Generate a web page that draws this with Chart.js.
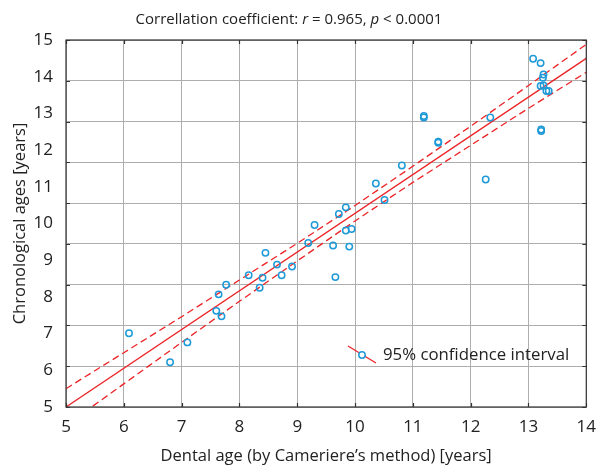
<!DOCTYPE html>
<html>
<head>
<meta charset="utf-8">
<script src="https://cdn.jsdelivr.net/npm/chart.js@4/dist/chart.umd.min.js"></script>
<style>
  html, body { margin: 0; padding: 0; background: #fff; }
  #wrap { width: 606px; height: 465px; }
</style>
</head>
<body>
<div id="wrap"><canvas id="myChart" width="606" height="465"></canvas></div>
<script>
// values (years)
const dentalAge = [6.09, 6.80, 7.10, 7.60, 7.64, 7.69, 7.77, 8.16, 8.35, 8.40, 8.45, 8.65, 8.73, 8.91,
    9.19, 9.30, 9.62, 9.66, 9.72, 9.84, 9.84, 9.90, 9.94, 10.36, 10.51, 10.81, 11.19, 11.19, 11.44, 11.44,
    12.26, 12.34, 13.08, 13.21, 13.26, 13.25, 13.21, 13.26, 13.31, 13.35, 13.22, 13.22];
const chronologicalAge = [7.01, 6.22, 6.76, 7.62, 8.07, 7.47, 8.33, 8.59, 8.25, 8.52, 9.20, 8.88, 8.59, 8.83,
    9.47, 9.96, 9.40, 8.54, 10.26, 10.44, 9.81, 9.37, 9.85, 11.09, 10.64, 11.58, 12.93, 12.89, 12.23, 12.20,
    11.20, 12.89, 14.49, 14.37, 14.06, 13.97, 13.75, 13.76, 13.61, 13.61, 12.56, 12.52];

const fitX = [5, 14];
const fitY = [5.0, 14.5];

const bandX = [5, 6, 7, 8, 9, 10, 11, 12, 13, 14];
const bandUpper = [5.50, 6.48, 7.46, 8.46, 9.46, 10.49, 11.56, 12.65, 13.76, 14.88];
const bandLower = [4.50, 5.63, 6.76, 7.88, 8.98, 10.07, 11.12, 12.13, 13.14, 14.12];

const xTicks = [5, 6, 7, 8, 9, 10, 11, 12, 13, 14];
const yTicks = [5, 6, 7, 8, 9, 10, 11, 12, 13, 14, 15];

const titleParts = [['Correllation coefficient: ', false], ['r', true], [' = 0.965, ', false], ['p', true], [' < 0.0001', false]];
const xTitle = 'Dental age (by Cameriere\u2019s method) [years]';
const yTitle = 'Chronological ages [years]';
const legendText = '95% confidence interval';

const FONT = '"Open Sans", "Noto Sans", sans-serif';
const RED = '#ec2327';
const BLUE = '#1f9ad8';
const GRID = '#adadad';
const FRAME = '#333333';

function toPoints(xs, ys) {
    return xs.map((x, i) => ({x: x, y: ys[i]}));
}

// title with italic r and p, frame, inward tick marks, legend
const decorations = {
    id: 'decorations',
    afterDraw(chart) {
        const ctx = chart.ctx;
        const area = chart.chartArea;
        const sx = chart.scales.x;
        const sg = chart.scales.yGrid;
        ctx.save();

        // title
        const up = '15px ' + FONT;
        const it = 'italic 15px ' + FONT;
        let total = 0;
        for (const [t, i] of titleParts) { ctx.font = i ? it : up; total += ctx.measureText(t).width; }
        let tx = 289 - total / 2;
        ctx.fillStyle = '#222';
        ctx.textBaseline = 'middle';
        ctx.textAlign = 'left';
        for (const [t, i] of titleParts) {
            ctx.font = i ? it : up;
            ctx.fillText(t, tx, 20);
            tx += ctx.measureText(t).width;
        }

        // frame
        ctx.strokeStyle = FRAME;
        ctx.lineWidth = 1.2;
        ctx.strokeRect(area.left, area.top, area.right - area.left, area.bottom - area.top);

        // inward ticks
        ctx.beginPath();
        for (const v of xTicks) {
            const px = Math.round(sx.getPixelForValue(v)) + 0.5;
            ctx.moveTo(px, area.top); ctx.lineTo(px, area.top + 4);
            ctx.moveTo(px, area.bottom); ctx.lineTo(px, area.bottom - 4);
        }
        for (let v = 0; v <= 9; v++) {
            const py = Math.round(sg.getPixelForValue(v)) + 0.5;
            ctx.moveTo(area.left, py); ctx.lineTo(area.left + 4, py);
            ctx.moveTo(area.right, py); ctx.lineTo(area.right - 4, py);
        }
        ctx.stroke();

        // legend
        const lx = area.left + 296, ly = area.top + 315;
        ctx.strokeStyle = RED;
        ctx.lineWidth = 1.3;
        ctx.beginPath();
        ctx.moveTo(lx - 14, ly - 9);
        ctx.lineTo(lx + 14, ly + 8);
        ctx.stroke();
        ctx.fillStyle = '#fff';
        ctx.strokeStyle = BLUE;
        ctx.lineWidth = 1.5;
        ctx.beginPath();
        ctx.arc(lx, ly, 3.2, 0, Math.PI * 2);
        ctx.fill();
        ctx.stroke();
        ctx.fillStyle = '#222';
        ctx.font = '16.8px ' + FONT;
        ctx.fillText(legendText, lx + 21, ly);
        ctx.restore();
    }
};

const ctx = document.getElementById('myChart');
new Chart(ctx, {
    type: 'scatter',
    data: {
        datasets: [
            {
                label: 'fit',
                data: toPoints(fitX, fitY),
                showLine: true,
                borderColor: RED,
                borderWidth: 1.3,
                pointRadius: 0,
                order: 2
            },
            {
                label: 'upper',
                data: toPoints(bandX, bandUpper),
                showLine: true,
                borderColor: RED,
                borderWidth: 1.3,
                borderDash: [7, 4],
                pointRadius: 0,
                order: 3
            },
            {
                label: 'lower',
                data: toPoints(bandX, bandLower),
                showLine: true,
                borderColor: RED,
                borderWidth: 1.3,
                borderDash: [7, 4],
                pointRadius: 0,
                order: 4
            },
            {
                label: 'subjects',
                data: toPoints(dentalAge, chronologicalAge),
                backgroundColor: 'rgba(255,255,255,0)',
                borderColor: BLUE,
                borderWidth: 1.5,
                pointRadius: 3.2,
                order: 1
            }
        ]
    },
    options: {
        responsive: false,
        animation: false,
        layout: {
            padding: {top: 40, right: 11, left: 0, bottom: 0}
        },
        plugins: {
            legend: {display: false},
            title: {display: false},
            tooltip: {enabled: false}
        },
        scales: {
            x: {
                type: 'linear',
                min: 5,
                max: 14,
                afterFit: (s) => { s.height = 58; },
                afterBuildTicks: (s) => { s.ticks = xTicks.map(v => ({value: v})); },
                border: {display: false},
                grid: {color: GRID, lineWidth: 1, drawTicks: false},
                ticks: {color: '#222', font: {family: FONT, size: 17}, padding: 10},
                title: {display: true, text: xTitle, color: '#222', font: {family: FONT, size: 16.5}, padding: {top: 0, bottom: -1}}
            },
            y: {
                type: 'linear',
                position: 'left',
                min: 5,
                max: 15,
                afterFit: (s) => { s.width = 66; },
                afterBuildTicks: (s) => { s.ticks = yTicks.map(v => ({value: v})); },
                border: {display: false},
                grid: {display: false, drawTicks: false},
                ticks: {color: '#222', font: {family: FONT, size: 17}, padding: 13},
                title: {display: true, text: yTitle, color: '#222', font: {family: FONT, size: 16.5}, padding: {top: 10, bottom: 0}}
            },
            yGrid: {
                type: 'linear',
                position: 'right',
                min: 0,
                max: 9,
                afterFit: (s) => { s.width = 0; },
                border: {display: false},
                grid: {color: GRID, lineWidth: 1, drawTicks: false},
                ticks: {display: false, stepSize: 1}
            }
        }
    },
    plugins: [decorations]
});
</script>
</body>
</html>
